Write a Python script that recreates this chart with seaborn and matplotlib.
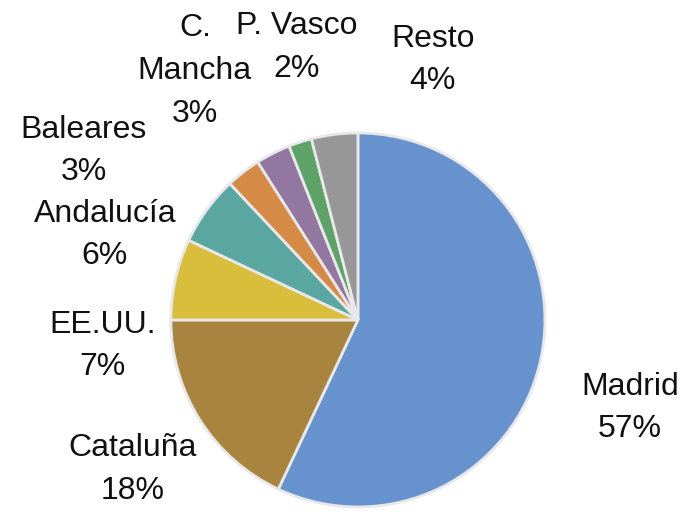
import matplotlib
matplotlib.use('Agg')
import matplotlib.pyplot as plt
import seaborn as sns

# share of each region (%)
regions = ['Madrid', 'Cataluña', 'EE.UU.', 'Andalucía', 'Baleares', 'C.\nMancha', 'P. Vasco', 'Resto']
shares = [57, 18, 7, 6, 3, 3, 2, 4]
colors = ['#6692cd', '#a9843f', '#d8be3a', '#5aa6a0', '#d58a45', '#9278a0', '#5da267', '#979797']

# where each label block sits (pie radius = 1)
label_pos = [(1.455, -0.47), (-1.203, -0.80), (-1.364, -0.139), (-1.353, 0.455),
             (-1.465, 0.904), (-0.872, 1.332), (-0.326, 1.457), (0.401, 1.39)]
line_step = 0.228

sns.set_theme(style='white')
plt.rcParams['font.family'] = ['Liberation Sans', 'DejaVu Sans']

fig = plt.figure(figsize=(6.82, 5.12), dpi=100)
ax = fig.add_axes([0, 0, 1, 1])

ax.pie(shares, colors=colors, startangle=90, counterclock=False, radius=1,
       wedgeprops={'edgecolor': '#e8e8e8', 'linewidth': 2})

# one text per line so the lines keep the reference spacing
for name, val, (x, y) in zip(regions, shares, label_pos):
    lines = name.split('\n') + [f'{val}%']
    top = y + line_step * (len(lines) - 1) / 2
    for i, line in enumerate(lines):
        ax.text(x, top - i * line_step, line, ha='center', va='center',
                fontsize=23, color='#111111')

ax.set_xlim(-1.914, 1.733)
ax.set_ylim(-1.027, 1.711)
ax.set_aspect('equal')
ax.axis('off')

plt.savefig('out.png', dpi=100)
